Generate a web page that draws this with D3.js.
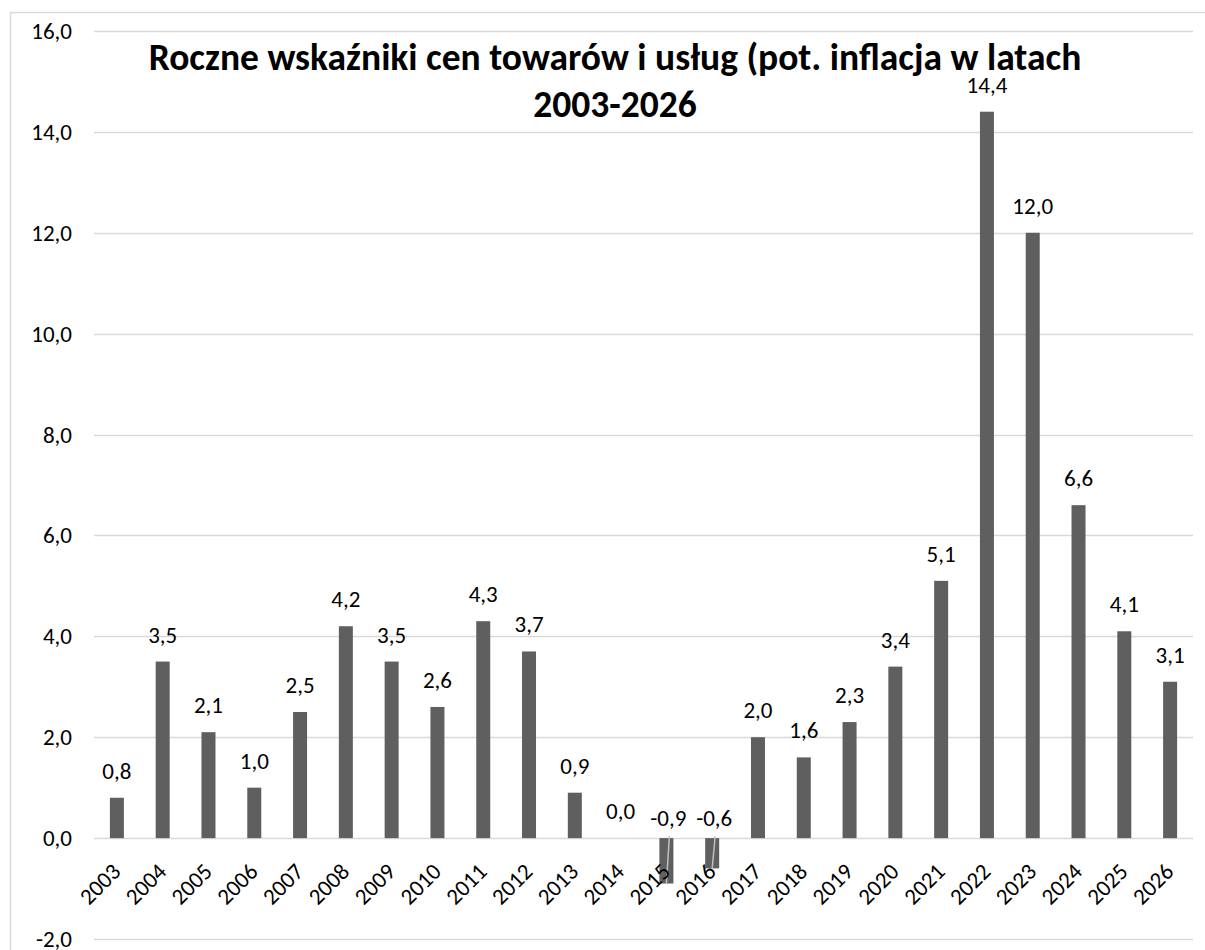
<!DOCTYPE html>
<html>
<head>
<meta charset="utf-8">
<script src="https://cdn.jsdelivr.net/npm/d3@7"></script>
<style>
  body { margin: 0; background: #fff; }
  svg { display: block; font-family: Carlito, Calibri, Lato, sans-serif; }
</style>
</head>
<body>
<div class="chart"></div>
<script>
const width = 1205;
const height = 950;

const years = ["2003", "2004", "2005", "2006", "2007", "2008", "2009", "2010",
  "2011", "2012", "2013", "2014", "2015", "2016", "2017", "2018", "2019",
  "2020", "2021", "2022", "2023", "2024", "2025", "2026"];
const values = [0.8, 3.5, 2.1, 1.0, 2.5, 4.2, 3.5, 2.6, 4.3, 3.7, 0.9, 0.0,
  -0.9, -0.6, 2.0, 1.6, 2.3, 3.4, 5.1, 14.4, 12.0, 6.6, 4.1, 3.1];
const yTicks = [-2, 0, 2, 4, 6, 8, 10, 12, 14, 16];
const titleLines = ["Roczne wskaźniki cen towarów i usług (pot. inflacja w latach", "2003-2026"];

const data = years.map((y, i) => ({ year: y, value: values[i] }));

const svg = d3
  .select(".chart")
  .append("svg")
  .attr("width", width)
  .attr("height", height);

// chart border
svg
  .append("rect")
  .attr("x", 10.5)
  .attr("y", 12.5)
  .attr("width", 1210)
  .attr("height", 960)
  .attr("fill", "none")
  .attr("stroke", "#d9d9d9")
  .attr("stroke-width", 1.5);

const plotLeft = 94;
const plotRight = 1193;

const x = d3.scaleBand().domain(years).range([plotLeft, plotRight]);
const y = d3.scaleLinear().domain([-2, 16]).range([939, 31]);

const fmt = (v) => d3.format(".1f")(v).replace(".", ",").replace("−", "-");
const labelSize = 23;

// gridlines
svg
  .append("g")
  .selectAll("line")
  .data(yTicks)
  .enter()
  .append("line")
  .attr("x1", plotLeft)
  .attr("x2", plotRight)
  .attr("y1", (d) => Math.round(y(d)) + 0.5)
  .attr("y2", (d) => Math.round(y(d)) + 0.5)
  .attr("stroke", "#d9d9d9")
  .attr("stroke-width", 1.5);

// y tick labels
svg
  .append("g")
  .selectAll("text")
  .data(yTicks)
  .enter()
  .append("text")
  .attr("x", 72)
  .attr("y", (d) => y(d) + 8)
  .attr("text-anchor", "end")
  .attr("font-size", labelSize)
  .attr("fill", "#000")
  .text(fmt);

const barW = 14;

// bars
svg
  .append("g")
  .selectAll("rect")
  .data(data)
  .enter()
  .append("rect")
  .attr("x", (d) => x(d.year) + x.bandwidth() / 2 - barW / 2)
  .attr("y", (d) => y(Math.max(0, d.value)))
  .attr("width", barW)
  .attr("height", (d) => Math.abs(y(d.value) - y(0)))
  .attr("fill", "#5f5f5f");

// leader lines for negative values
svg
  .append("g")
  .selectAll("line")
  .data(data.filter((d) => d.value < 0))
  .enter()
  .append("line")
  .attr("x1", (d) => x(d.year) + x.bandwidth() / 2 + 3)
  .attr("y1", y(0) - 2)
  .attr("x2", (d) => x(d.year) + x.bandwidth() / 2)
  .attr("y2", (d) => y(d.value))
  .attr("stroke", "#bfbfbf")
  .attr("stroke-width", 1.5);

// value labels
svg
  .append("g")
  .selectAll("text")
  .data(data)
  .enter()
  .append("text")
  .attr("x", (d) => x(d.year) + x.bandwidth() / 2 + (d.value < 0 ? 2 : 0))
  .attr("y", (d) => (d.value < 0 ? y(0) - 12 : y(d.value) - 19))
  .attr("text-anchor", "middle")
  .attr("font-size", labelSize)
  .attr("fill", "#000")
  .text((d) => fmt(d.value));

// year labels
svg
  .append("g")
  .selectAll("text")
  .data(years)
  .enter()
  .append("text")
  .attr(
    "transform",
    (d) => `translate(${x(d) + x.bandwidth() / 2 + 5}, ${y(0) + 35}) rotate(-45)`
  )
  .attr("text-anchor", "end")
  .attr("font-size", labelSize)
  .attr("fill", "#000")
  .text((d) => d);

// title
svg
  .append("g")
  .selectAll("text")
  .data(titleLines)
  .enter()
  .append("text")
  .attr("x", 615)
  .attr("y", (d, i) => 70 + i * 47)
  .attr("text-anchor", "middle")
  .attr("font-size", 37.5)
  .attr("font-weight", "bold")
  .attr("fill", "#000")
  .text((d) => d);
</script>
</body>
</html>
